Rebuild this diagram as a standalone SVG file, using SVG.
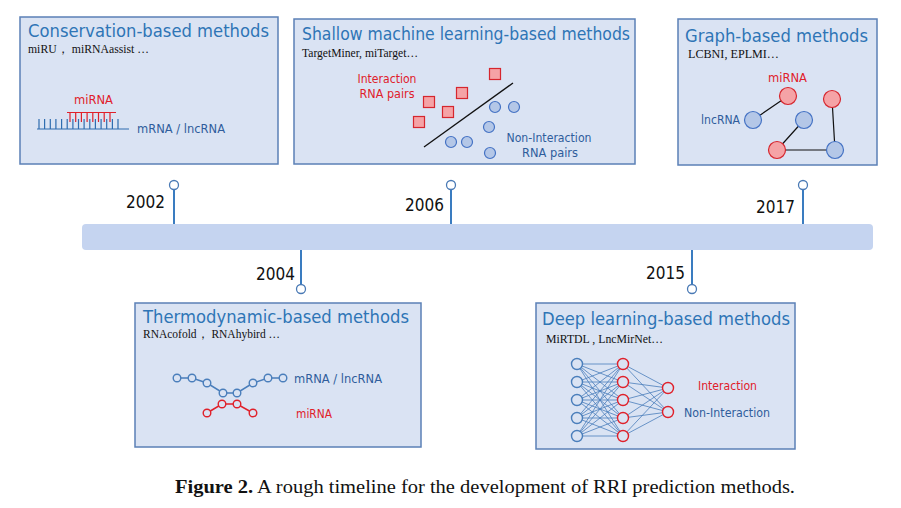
<svg xmlns="http://www.w3.org/2000/svg" width="901" height="508" viewBox="0 0 901 508">
<style>
.box{fill:#dae3f3;stroke:#5b80b6;stroke-width:1.5}
.title{font-family:'DejaVu Sans','Noto Sans',sans-serif;font-size:17px;fill:#2e75b6}
.sub{font-family:'Liberation Serif',serif;font-size:12.5px;fill:#111}
.lab{font-family:'DejaVu Sans','Noto Sans',sans-serif;font-size:12.5px}
.red{fill:#e0202a}
.blue{fill:#2f5d9c}
.year{font-family:'DejaVu Sans','Noto Sans',sans-serif;font-size:18.5px;fill:#111}
.stem{stroke:#3a7cc0;stroke-width:2}
.knob{fill:#fff;stroke:#4a7ab5;stroke-width:1.3}
.sq{fill:#f5a3a6;stroke:#d6262e;stroke-width:1.2}
.bc{fill:#b4c7e7;stroke:#4472c4;stroke-width:1.2}
.rc{fill:#f5a3a6;stroke:#d6262e;stroke-width:1.2}
.bo{fill:#dae3f3;stroke:#4a7ebb;stroke-width:1.4}
.ro{fill:#dae3f3;stroke:#e0202a;stroke-width:1.4}
</style>

<g id="timeline">
<rect x="82" y="224" width="791" height="26" rx="4" fill="#c5d4f0"/>
</g>

<g id="connectors">
<line class="stem" x1="174" y1="189.5" x2="174" y2="224"/>
<line class="stem" x1="451" y1="189.5" x2="451" y2="224"/>
<line class="stem" x1="803" y1="189.5" x2="803" y2="224"/>
<line class="stem" x1="301" y1="250" x2="301" y2="284.5"/>
<line class="stem" x1="692" y1="250" x2="692" y2="284.5"/>
<circle class="knob" cx="174" cy="185" r="4.5"/>
<circle class="knob" cx="451" cy="185" r="4.5"/>
<circle class="knob" cx="803" cy="185" r="4.5"/>
<circle class="knob" cx="301" cy="289" r="4.5"/>
<circle class="knob" cx="692" cy="289" r="4.5"/>
</g>

<g id="years">
<text class="year" x="165" y="208" text-anchor="end" textLength="39" lengthAdjust="spacingAndGlyphs">2002</text>
<text class="year" x="444" y="211" text-anchor="end" textLength="39" lengthAdjust="spacingAndGlyphs">2006</text>
<text class="year" x="795" y="213" text-anchor="end" textLength="39" lengthAdjust="spacingAndGlyphs">2017</text>
<text class="year" x="295" y="280" text-anchor="end" textLength="39" lengthAdjust="spacingAndGlyphs">2004</text>
<text class="year" x="685" y="279" text-anchor="end" textLength="39" lengthAdjust="spacingAndGlyphs">2015</text>
</g>

<g id="conservation">
<rect class="box" x="20" y="17" width="258" height="147"/>
<text class="title" x="28" y="37" textLength="241" lengthAdjust="spacingAndGlyphs">Conservation-based methods</text>
<text class="sub" x="28" y="53" textLength="121" lengthAdjust="spacingAndGlyphs">miRU， miRNAassist …</text>
<text class="lab red" x="74" y="104" textLength="39" lengthAdjust="spacingAndGlyphs">miRNA</text>
<path d="M67 112.5H116M70 112.5V122M75.7 112.5V122M81.4 112.5V122M87.1 112.5V122M92.8 112.5V122M98.5 112.5V122M104.2 112.5V122M110 112.5V122" stroke="#e0202a" stroke-width="1.2" fill="none"/>
<path d="M37 129H129M39 129V119M44.6 129V119M50.3 129V119M55.9 129V119M61.6 129V119M67.2 129V119M72.9 129V119M78.5 129V119M84.1 129V119M89.8 129V119M95.4 129V119M101.1 129V119M106.7 129V119M112.4 129V119M118 129V119" stroke="#2f6db0" stroke-width="1.2" fill="none"/>
<text class="lab blue" x="137" y="133" textLength="88" lengthAdjust="spacingAndGlyphs">mRNA / lncRNA</text>
</g>

<g id="shallow">
<rect class="box" x="294" y="19" width="341" height="145"/>
<text class="title" x="302" y="40" textLength="328" lengthAdjust="spacingAndGlyphs">Shallow machine learning-based methods</text>
<text class="sub" x="302" y="57" textLength="116" lengthAdjust="spacingAndGlyphs">TargetMiner, miTarget…</text>
<text class="lab red" x="387" y="83" text-anchor="middle" textLength="59" lengthAdjust="spacingAndGlyphs">Interaction</text>
<text class="lab red" x="387" y="98" text-anchor="middle" textLength="55" lengthAdjust="spacingAndGlyphs">RNA pairs</text>
<line x1="424" y1="147" x2="513" y2="83" stroke="#111" stroke-width="1.3"/>
<rect class="sq" x="489.5" y="68.5" width="11" height="11"/>
<rect class="sq" x="456.5" y="87.5" width="11" height="11"/>
<rect class="sq" x="423.5" y="96.5" width="11" height="11"/>
<rect class="sq" x="442.5" y="106.5" width="11" height="11"/>
<rect class="sq" x="413.5" y="116.5" width="11" height="11"/>
<circle class="bc" cx="495" cy="107" r="5.5"/>
<circle class="bc" cx="514" cy="107" r="5.5"/>
<circle class="bc" cx="489" cy="127" r="5.5"/>
<circle class="bc" cx="451" cy="142" r="5.5"/>
<circle class="bc" cx="467" cy="142" r="5.5"/>
<circle class="bc" cx="490" cy="153" r="5.5"/>
<text class="lab blue" x="549" y="142" text-anchor="middle" textLength="85" lengthAdjust="spacingAndGlyphs">Non-Interaction</text>
<text class="lab blue" x="550" y="157" text-anchor="middle" textLength="56" lengthAdjust="spacingAndGlyphs">RNA pairs</text>
</g>

<g id="graph">
<rect class="box" x="678" y="19" width="199" height="146"/>
<text class="title" x="685" y="42" textLength="183" lengthAdjust="spacingAndGlyphs">Graph-based methods</text>
<text class="sub" x="688" y="58" textLength="91" lengthAdjust="spacingAndGlyphs">LCBNI, EPLMI…</text>
<text class="lab red" x="768" y="82" textLength="39" lengthAdjust="spacingAndGlyphs">miRNA</text>
<text class="lab blue" x="701" y="124" textLength="39" lengthAdjust="spacingAndGlyphs">lncRNA</text>
<path d="M788 96L753 120M804 120L777 150M777 150H835M832 99L835 150" stroke="#111" stroke-width="1.2" fill="none"/>
<circle class="rc" cx="788" cy="96" r="8.5"/>
<circle class="bc" cx="753" cy="120" r="8.5"/>
<circle class="bc" cx="804" cy="120" r="8.5"/>
<circle class="rc" cx="832" cy="99" r="8.5"/>
<circle class="rc" cx="777" cy="150" r="8.5"/>
<circle class="bc" cx="835" cy="150" r="8.5"/>
</g>

<g id="thermodynamic">
<rect class="box" x="135" y="303" width="286" height="144"/>
<text class="title" x="143" y="323" textLength="266" lengthAdjust="spacingAndGlyphs">Thermodynamic-based methods</text>
<text class="sub" x="143" y="338" textLength="137" lengthAdjust="spacingAndGlyphs">RNAcofold， RNAhybird …</text>
<polyline points="177,378 192,378 207,383 223,393 237,393 253,383 268,378 283,378" fill="none" stroke="#4a7ebb" stroke-width="1.5"/>
<polyline points="207,413 222,404 237,404 253,413" fill="none" stroke="#e0202a" stroke-width="1.5"/>
<g class="bo">
<circle cx="177" cy="378" r="3.8"/><circle cx="192" cy="378" r="3.8"/><circle cx="207" cy="383" r="3.8"/><circle cx="223" cy="393" r="3.8"/><circle cx="237" cy="393" r="3.8"/><circle cx="253" cy="383" r="3.8"/><circle cx="268" cy="378" r="3.8"/><circle cx="283" cy="378" r="3.8"/>
</g>
<g class="ro">
<circle cx="207" cy="413" r="3.8"/><circle cx="222" cy="404" r="3.8"/><circle cx="237" cy="404" r="3.8"/><circle cx="253" cy="413" r="3.8"/>
</g>
<text class="lab blue" x="294" y="383" textLength="88" lengthAdjust="spacingAndGlyphs">mRNA / lncRNA</text>
<text class="lab red" x="296" y="418" textLength="36" lengthAdjust="spacingAndGlyphs">miRNA</text>
</g>

<g id="deep">
<rect class="box" x="536" y="303" width="259" height="146"/>
<text class="title" x="542" y="325" textLength="248" lengthAdjust="spacingAndGlyphs">Deep learning-based methods</text>
<text class="sub" x="546" y="343" textLength="117" lengthAdjust="spacingAndGlyphs">MiRTDL , LncMirNet…</text>
<path stroke="#4a7ebb" stroke-width="0.8" fill="none" d="M577 364L623 364M577 364L623 382M577 364L623 400M577 364L623 418M577 364L623 436M577 382L623 364M577 382L623 382M577 382L623 400M577 382L623 418M577 382L623 436M577 400L623 364M577 400L623 382M577 400L623 400M577 400L623 418M577 400L623 436M577 418L623 364M577 418L623 382M577 418L623 400M577 418L623 418M577 418L623 436M577 436L623 364M577 436L623 382M577 436L623 400M577 436L623 418M577 436L623 436M623 364L668 388M623 382L668 388M623 400L668 388M623 418L668 388M623 436L668 388M623 364L668 412M623 382L668 412M623 400L668 412M623 418L668 412M623 436L668 412"/>
<g class="bo">
<circle cx="577" cy="364" r="5.5"/><circle cx="577" cy="382" r="5.5"/><circle cx="577" cy="400" r="5.5"/><circle cx="577" cy="418" r="5.5"/><circle cx="577" cy="436" r="5.5"/>
</g>
<g class="ro">
<circle cx="623" cy="364" r="5.5"/><circle cx="623" cy="382" r="5.5"/><circle cx="623" cy="400" r="5.5"/><circle cx="623" cy="418" r="5.5"/><circle cx="623" cy="436" r="5.5"/>
<circle cx="668" cy="388" r="5.5"/><circle cx="668" cy="412" r="5.5"/>
</g>
<text class="lab red" x="698" y="390" textLength="59" lengthAdjust="spacingAndGlyphs">Interaction</text>
<text class="lab blue" x="684" y="417" textLength="86" lengthAdjust="spacingAndGlyphs">Non-Interaction</text>
</g>

<g id="caption">
<text x="175" y="493" font-family="'Liberation Serif',serif" font-size="18" fill="#111" textLength="620" lengthAdjust="spacingAndGlyphs"><tspan font-weight="bold">Figure 2.</tspan> A rough timeline for the development of RRI prediction methods.</text>
</g>
</svg>
